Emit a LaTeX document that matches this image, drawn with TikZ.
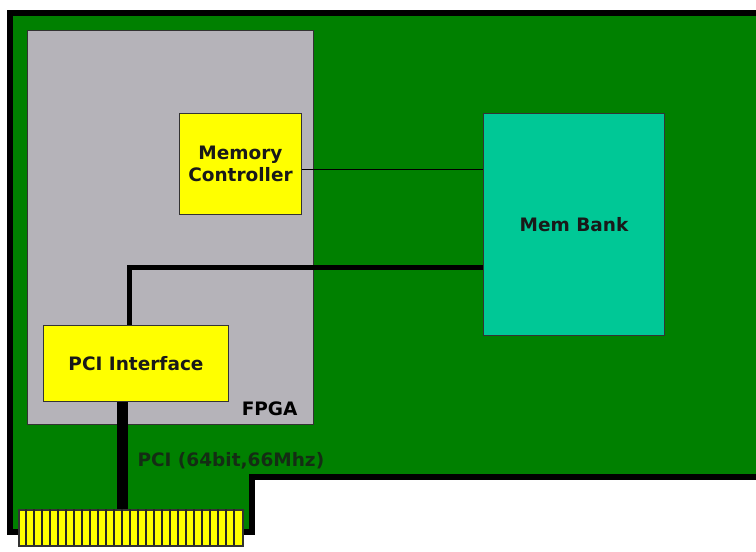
\documentclass[tikz,border=0pt]{standalone}
\usepackage{fontspec}
\setmainfont{DejaVu Sans}
\usetikzlibrary{positioning}
\definecolor{boardgreen}{RGB}{0,128,0}
\definecolor{fpgagray}{RGB}{181,179,185}
\definecolor{chipyellow}{RGB}{255,255,0}
\definecolor{bankteal}{RGB}{0,200,150}
\definecolor{labeldark}{RGB}{20,45,20}
\begin{document}
\begin{tikzpicture}[x=1pt, y=-1pt,
  font=\fontsize{18.5}{22}\selectfont\bfseries,
  board/.style={draw=black, line width=6pt, fill=boardgreen, miter limit=4},
  blk/.style={draw=black!80, line width=1pt, anchor=north west, inner sep=0pt, align=center, text=black!90},
  chip/.style={blk, fill=chipyellow},
  bank/.style={blk, fill=bankteal},
  fpgabox/.style={blk, fill=fpgagray},
  wire/.style={draw=black, line width=0.8pt},
  bus/.style={draw=black, line width=5pt},
  pcibus/.style={draw=black, line width=11pt},
  fingerline/.style={draw=black!85, line width=1.6pt},
]
\clip (0,0) rectangle (756,552);
\useasboundingbox (0,0) rectangle (756,552);
% ================= board =================
\draw[board] (10,13) -- (790,13) -- (790,477) -- (252,477) -- (252,532) -- (10,532) -- cycle;
% ================= FPGA and its blocks =================
\node[fpgabox, minimum width=286pt, minimum height=394pt] (fpga) at (27,30) {};
\node[anchor=base east] (fpgalbl) at (301,415) {FPGA};
\node[chip, minimum width=122pt, minimum height=101pt] (memctl) at (179,113) {Memory\\Controller};
\node[chip, minimum width=185pt, minimum height=76pt] (pciif) at (43,325) {PCI Interface};
% ================= memory =================
\node[bank, minimum width=181pt, minimum height=222pt] (membank) at (483,113) {Mem Bank};
% ================= edge connector =================
\node[blk, fill=chipyellow, line width=1.6pt, minimum width=224pt, minimum height=36pt] (fingers) at (18,509) {};
\foreach \i in {1,...,27}
  \draw[fingerline] (fingers.north west) ++(8*\i,0) -- ++(0,36);
% ================= connections =================
\draw[wire] ([yshift=-5.5pt]memctl.east) -- ([yshift=-5.5pt]memctl.east -| membank.west);
\draw[bus] ([yshift=-43pt]membank.west) -| ([xshift=-6.5pt]pciif.north);
\draw[pcibus] ([xshift=-13.5pt]pciif.south) -- ([xshift=-13.5pt]pciif.south |- fingers.north);
\node[anchor=west, text=labeldark] (pcilbl) at (134,461) {PCI (64bit,66Mhz)};
\end{tikzpicture}
\end{document}
